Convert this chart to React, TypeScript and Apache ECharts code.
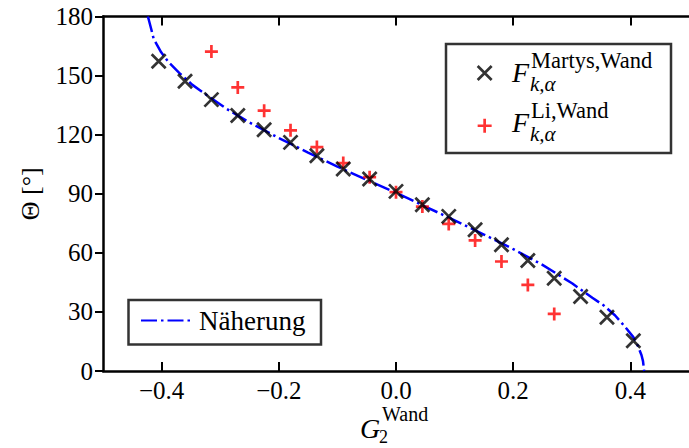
import React, { useEffect, useRef } from 'react';
import * as echarts from 'echarts';

// x tick positions
const xTicks = [-0.4, -0.2, 0, 0.2, 0.4];

// F_{k,alpha}^{Martys,Wand}
const martysX = [-0.405, -0.36, -0.315, -0.27, -0.225, -0.18, -0.135, -0.09, -0.045, 0, 0.045, 0.09, 0.135, 0.18, 0.225, 0.27, 0.315, 0.36, 0.405];
const martysTheta = [157.3, 147.1, 137.8, 129.7, 122.5, 116.1, 109.3, 102.6, 97.5, 91.2, 84.4, 78.5, 71.7, 64.1, 56.1, 47.1, 37.8, 27.3, 15.4];

// F_{k,alpha}^{Li,Wand}
const liX = [-0.315, -0.27, -0.225, -0.18, -0.135, -0.09, -0.045, 0, 0.045, 0.09, 0.135, 0.18, 0.225, 0.27];
const liTheta = [162.2, 144.0, 132.2, 122.2, 113.7, 105.6, 98.4, 90.8, 83.5, 74.7, 66.3, 55.6, 43.7, 29.0];

// Näherung (approximation curve)
const curveX = [-0.4235, -0.422, -0.4175, -0.4136, -0.4007, -0.388, -0.37, -0.348, -0.319, -0.289, -0.25, -0.2, -0.15, -0.1, -0.05, 0, 0.05, 0.1, 0.15, 0.2, 0.25, 0.301, 0.335, 0.354, 0.374, 0.391, 0.405, 0.413, 0.419, 0.4215, 0.4235];
const curveTheta = [180, 178.5, 173.4, 168.7, 161.8, 156.8, 151.4, 145.4, 139.3, 133.1, 126.2, 118.3, 110.9, 103.8, 97.0, 90.5, 83.5, 76.5, 69.3, 61.9, 53.9, 44.4, 37.2, 33.4, 28.2, 22.4, 17.2, 12.6, 8.0, 5.0, 0];

const FONT = 'Liberation Serif';
const CROSS = 'path://M0,0L10,10M10,0L0,10';
const PLUS = 'path://M5,0L5,10M0,5L10,5';

export default function App() {
  const ref = useRef<HTMLDivElement>(null);

  useEffect(() => {
    const chart = echarts.init(ref.current as HTMLDivElement, null, { renderer: 'svg' });
    const zip = (xs: number[], ys: number[]) => xs.map((x, i) => [x, ys[i]]);
    const fmtX = (v: number) => {
      const s = Math.abs(v).toFixed(1);
      return v < -1e-9 ? '\u2212' + s : s;
    };
    const axisLine = { show: true, onZero: false, lineStyle: { color: '#000', width: 2.5 } };
    const txt = (text: string, x: number, y: number, size: number, italic: boolean) => ({
      type: 'text', z: 5, x, y,
      style: {
        text, fill: '#000', fontSize: size, fontFamily: FONT, fontStyle: italic ? 'italic' : 'normal',
        textAlign: 'left', textVerticalAlign: 'middle',
      },
    });

    const option: any = {
      animation: false,
      backgroundColor: '#fff',
      textStyle: { fontFamily: FONT },
      grid: { left: 103, top: 16.5, right: -9.5, bottom: 77, containLabel: false },
      xAxis: [
        {
          type: 'value', min: -0.5, max: 0.5, position: 'bottom',
          axisLine,
          axisTick: { show: true, inside: true, length: 9, lineStyle: { color: '#000', width: 2 }, customValues: xTicks },
          axisLabel: { show: true, customValues: xTicks, formatter: fmtX, margin: 7, fontSize: 25, fontFamily: FONT, color: '#000' },
          splitLine: { show: false },
        },
        {
          type: 'value', min: -0.5, max: 0.5, position: 'top',
          axisLine,
          axisTick: { show: true, inside: true, length: 9, lineStyle: { color: '#000', width: 2 }, customValues: xTicks },
          axisLabel: { show: false },
          splitLine: { show: false },
        },
      ],
      yAxis: {
        type: 'value', min: 0, max: 180, interval: 30,
        axisLine,
        axisTick: { show: true, inside: false, length: 8, lineStyle: { color: '#000', width: 2 } },
        axisLabel: { margin: 10, fontSize: 25, fontFamily: FONT, color: '#000' },
        splitLine: { show: false },
        name: 'Θ [°]',
        nameLocation: 'middle',
        nameGap: 60,
        nameTextStyle: { fontSize: 26, fontFamily: FONT, color: '#000' },
      },
      legend: [
        {
          data: [
            { name: 'Martys', itemStyle: { color: 'rgba(0,0,0,0)', borderColor: '#000', borderWidth: 2.7 } },
            { name: 'Li', itemStyle: { color: 'rgba(0,0,0,0)', borderColor: '#ff0000', borderWidth: 2.7 } },
          ],
          orient: 'vertical',
          left: 476.3, top: 64.7, padding: 0,
          itemWidth: 14, itemHeight: 14, itemGap: 36,
          selectedMode: false,
          formatter: () => ' ',
          textStyle: { fontSize: 12 },
          z: 4,
        },
        {
          data: [{ name: 'Näherung', itemStyle: { color: 'rgba(0,0,0,0)', borderWidth: 0, opacity: 0 } }],
          left: 140, top: 307, padding: 0,
          itemWidth: 53, itemHeight: 14,
          selectedMode: false,
          textStyle: { fontSize: 27, fontFamily: FONT, color: '#000' },
          z: 4,
        },
      ],
      series: [
        {
          name: 'Näherung', type: 'line', data: zip(curveX, curveTheta),
          showSymbol: false, symbol: 'none', smooth: false,
          lineStyle: { color: '#0000ff', width: 2.5, type: [16, 4, 2.5, 4] },
          itemStyle: { color: '#0000ff' },
          z: 2,
        },
        {
          name: 'Li', type: 'scatter', data: zip(liX, liTheta),
          symbol: PLUS, symbolSize: 13,
          itemStyle: { color: 'rgba(0,0,0,0)', borderColor: '#ff0000', borderWidth: 2.7 },
          z: 3,
        },
        {
          name: 'Martys', type: 'scatter', data: zip(martysX, martysTheta),
          symbol: CROSS, symbolSize: 14,
          itemStyle: { color: 'rgba(0,0,0,0)', borderColor: '#000', borderWidth: 2.7 },
          z: 3,
        },
      ],
      graphic: [
        { type: 'rect', z: 3, shape: { x: 446, y: 44, width: 225, height: 109 }, style: { fill: '#fff', stroke: '#333', lineWidth: 2.5 } },
        { type: 'rect', z: 3, shape: { x: 128.5, y: 300, width: 192.5, height: 44.5 }, style: { fill: '#fff', stroke: '#333', lineWidth: 2.5 } },
        // legend labels F_{k,α}^{Martys,Wand}
        txt('F', 512, 72.5, 28, true),
        txt('Martys,Wand', 531, 60, 22.5, false),
        txt('k,α', 530, 84, 21, true),
        txt('F', 512, 122.5, 28, true),
        txt('Li,Wand', 531, 110.5, 22.5, false),
        txt('k,α', 530, 134, 21, true),
        // x-axis name G_2^{Wand}
        txt('G', 360, 428, 28, true),
        txt('Wand', 382, 414, 20, false),
        txt('2', 379, 437, 18, false),
      ],
    };

    chart.setOption(option);
    return () => chart.dispose();
  }, []);

  return (
    <div
      ref={ref}
      style={{ position: 'fixed', left: 0, top: 0, width: 689, height: 448, overflow: 'hidden', background: '#fff' }}
    />
  );
}
